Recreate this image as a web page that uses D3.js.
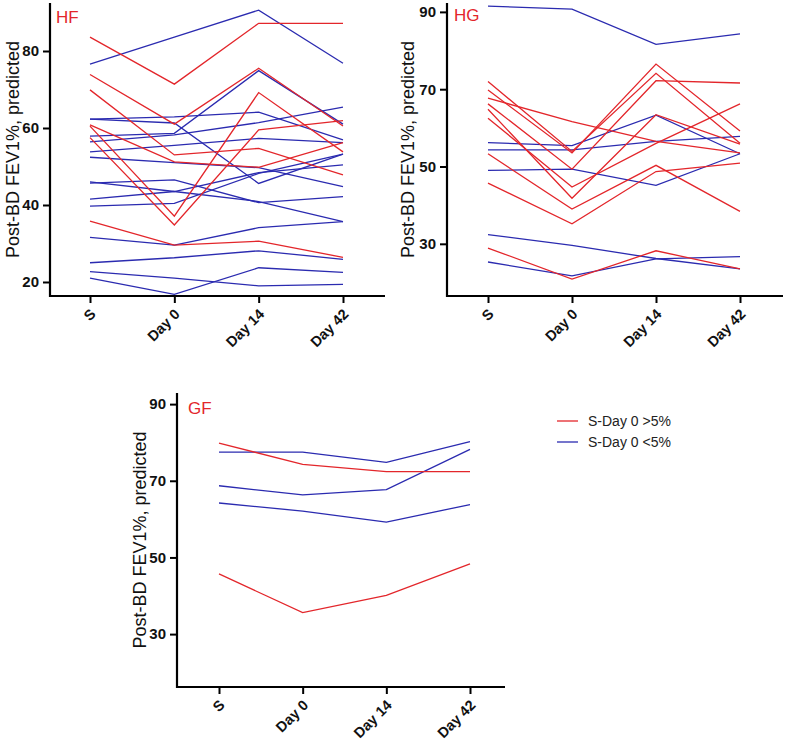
<!DOCTYPE html>
<html><head><meta charset="utf-8">
<script src="https://cdn.jsdelivr.net/npm/d3@7"></script>
<style>body{margin:0;background:#fff}svg{display:block}</style>
</head><body>
<script>
const categories = ["S", "Day 0", "Day 14", "Day 42"];
const groups = ["S-Day 0 >5%", "S-Day 0 <5%"];
const colors = ["#e3262b", "#2b2bb0"];

// HF panel series [S, Day 0, Day 14, Day 42]
const hfRed = [
  [83.6, 71.4, 87.2, 87.2],
  [73.9, 61.0, 75.5, 60.5],
  [69.9, 53.0, 54.7, 47.8],
  [60.8, 51.2, 49.8, 56.2],
  [60.5, 37.1, 69.2, 53.8],
  [57.5, 34.8, 59.5, 61.9],
  [35.8, 29.6, 30.6, 26.4]
];
const hfBlue = [
  [76.6, 83.6, 90.6, 76.8],
  [62.3, 62.9, 64.1, 56.9],
  [62.3, 61.3, 45.6, 53.2],
  [57.9, 58.6, 74.9, 61.0],
  [56.4, 58.2, 61.4, 65.4],
  [53.8, 55.5, 57.3, 56.2],
  [52.4, 51.0, 49.7, 44.8],
  [46.0, 43.5, 40.9, 35.7],
  [45.7, 46.5, 40.6, 42.2],
  [41.5, 43.5, 48.4, 50.4],
  [39.7, 40.4, 48.2, 53.2],
  [31.6, 29.6, 34.1, 35.7],
  [25.0, 26.3, 28.1, 25.9],
  [22.7, 21.0, 19.0, 19.4],
  [21.0, 16.8, 23.7, 22.5]
];
// HG panel
const hgRed = [
  [72.0, 53.9, 74.1, 56.0],
  [69.8, 53.5, 76.5, 59.2],
  [67.7, 61.6, 56.5, 53.5],
  [66.2, 49.3, 72.2, 71.6],
  [64.8, 41.8, 63.4, 55.8],
  [62.5, 44.7, 56.0, 66.2],
  [53.3, 39.0, 50.3, 38.4],
  [45.7, 35.2, 48.7, 50.9],
  [28.9, 20.9, 28.2, 23.5]
];
const hgBlue = [
  [91.5, 90.7, 81.6, 84.3],
  [56.2, 55.4, 63.3, 53.3],
  [54.3, 54.3, 56.5, 57.8],
  [49.0, 49.3, 45.1, 53.3],
  [32.4, 29.6, 26.2, 23.5],
  [25.3, 21.7, 26.1, 26.7]
];
// GF panel
const gfRed = [
  [79.8, 74.3, 72.4, 72.4],
  [45.7, 35.6, 40.1, 48.3]
];
const gfBlue = [
  [77.5, 77.5, 74.8, 80.2],
  [68.7, 66.3, 67.7, 78.2],
  [64.2, 62.1, 59.2, 63.8]
];
const hfTicks = [20, 40, 60, 80];
const hgTicks = [30, 50, 70, 90];
const gfTicks = [30, 50, 70, 90];
const yLabel = "Post-BD FEV1%, predicted";

const W = 787, H = 746;
const svg = d3.select("body").append("svg").attr("width", W).attr("height", H)
  .style("font-family", "'Liberation Sans', Arial, sans-serif");

function panel(cfg) {
  const g = svg.append("g");
  const y = d3.scaleLinear().domain(cfg.yDom).range([cfg.bottom, cfg.top]);
  const x = d3.scalePoint().domain(categories).range([cfg.x0, cfg.x1]);
  const line = d3.line().x((d, i) => x(categories[i])).y(d => y(d));
  [[cfg.blue, colors[1]], [cfg.red, colors[0]]].forEach(([set, c]) => {
    g.selectAll(null).data(set).enter().append("path")
      .attr("d", line).attr("fill", "none").attr("stroke", c).attr("stroke-width", 1.3);
  });
  // y axis
  const ya = g.append("g").attr("transform", `translate(${cfg.axisX},0)`)
    .call(d3.axisLeft(y).tickValues(cfg.ticks).tickSize(7).tickPadding(4).tickSizeOuter(0));
  ya.select(".domain").remove();
  ya.selectAll(".tick line").attr("stroke", "#000").attr("stroke-width", 2);
  ya.selectAll(".tick text").attr("font-size", 15).attr("font-weight", "bold").attr("fill", "#111")
    .attr("font-family", "'Liberation Sans', Arial, sans-serif");
  g.append("line").attr("x1", cfg.axisX).attr("x2", cfg.axisX).attr("y1", cfg.top)
    .attr("y2", cfg.bottom + 1).attr("stroke", "#000").attr("stroke-width", 2.2);
  // x axis
  const xa = g.append("g").attr("transform", `translate(0,${cfg.bottom})`)
    .call(d3.axisBottom(x).tickSize(7).tickSizeOuter(0));
  xa.select(".domain").remove();
  xa.selectAll(".tick line").attr("stroke", "#000").attr("stroke-width", 2);
  xa.selectAll(".tick text").attr("font-size", 14.5).attr("font-weight", "bold").attr("fill", "#111")
    .attr("font-family", "'Liberation Sans', Arial, sans-serif")
    .attr("text-anchor", "end").attr("y", 0).attr("dy", 0)
    .attr("transform", "translate(6,19) rotate(-45)");
  g.append("line").attr("x1", cfg.axisX - 1).attr("x2", cfg.axisEnd).attr("y1", cfg.bottom)
    .attr("y2", cfg.bottom).attr("stroke", "#000").attr("stroke-width", 2.2);
  // y label
  g.append("text").attr("transform", `translate(${cfg.labelX},${(cfg.top + cfg.bottom) / 2}) rotate(-90)`)
    .attr("text-anchor", "middle").attr("font-size", 18).attr("fill", "#111").text(yLabel);
  // panel title
  g.append("text").attr("x", cfg.titleX).attr("y", cfg.titleY).attr("font-size", 17)
    .attr("fill", colors[0]).text(cfg.title);
}

panel({ title: "HF", titleX: 56, titleY: 23, red: hfRed, blue: hfBlue, ticks: hfTicks,
  yDom: [16.36, 92.47], top: 3, bottom: 296, axisX: 50, axisEnd: 385, x0: 90, x1: 343, labelX: 19 });
panel({ title: "HG", titleX: 454, titleY: 21, red: hgRed, blue: hgBlue, ticks: hgTicks,
  yDom: [16.5, 92.3], top: 3, bottom: 296, axisX: 447, axisEnd: 783, x0: 488, x1: 740, labelX: 414 });
panel({ title: "GF", titleX: 188, titleY: 414, red: gfRed, blue: gfBlue, ticks: gfTicks,
  yDom: [16.2, 92.9], top: 393, bottom: 687, axisX: 177, axisEnd: 505, x0: 219, x1: 470, labelX: 146 });

// legend
const lg = svg.append("g");
groups.forEach((name, i) => {
  const yy = 421 + i * 21;
  lg.append("line").attr("x1", 557).attr("x2", 578).attr("y1", yy).attr("y2", yy)
    .attr("stroke", colors[i]).attr("stroke-width", 1.3);
  lg.append("text").attr("x", 588).attr("y", yy + 5).attr("font-size", 14).attr("fill", "#222").text(name);
});
</script>
</body></html>
